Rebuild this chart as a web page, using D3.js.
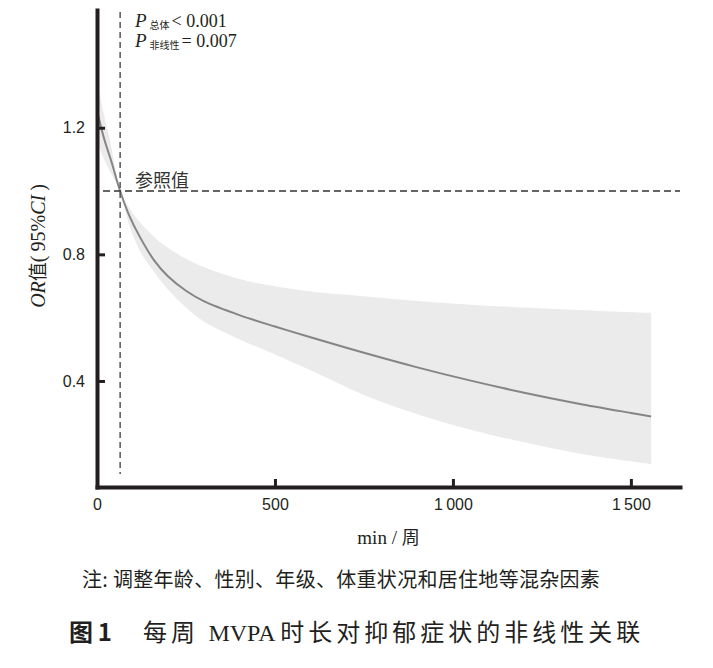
<!DOCTYPE html>
<html>
<head>
<meta charset="utf-8">
<script src="https://cdn.jsdelivr.net/npm/d3@7"></script>
<style>
html,body{margin:0;padding:0;background:#fff;}
svg{display:block;}
</style>
</head>
<body>
<svg id="chart" width="713" height="668"></svg>
<script>
// ---- data ----
const minutes = [3, 20, 40, 65, 90, 120, 160, 200, 250, 300, 400, 500, 600, 750, 900, 1050, 1200, 1350, 1500, 1557];
const orValue = [1.24, 1.165, 1.095, 1.00, 0.924, 0.856, 0.782, 0.730, 0.685, 0.652, 0.608, 0.572, 0.538, 0.489, 0.443, 0.401, 0.363, 0.329, 0.299, 0.288];
const ciUpper = [1.33, 1.24, 1.14, 1.00, 0.948, 0.902, 0.856, 0.820, 0.786, 0.760, 0.722, 0.699, 0.683, 0.668, 0.653, 0.641, 0.632, 0.624, 0.617, 0.615];
const ciLower = [1.15, 1.10, 1.055, 1.00, 0.895, 0.812, 0.745, 0.688, 0.632, 0.588, 0.532, 0.484, 0.434, 0.356, 0.295, 0.246, 0.206, 0.172, 0.146, 0.137];
const xTicks = [0, 500, 1000, 1500];
const yTicks = [0.4, 0.8, 1.2];
const refMinutes = 65;
const refOR = 1.0;
const xDomain = [0, 1638];
const yDomain = [0.065, 1.572];

const rows = minutes.map((m, i) => ({m, or: orValue[i], lo: ciLower[i], hi: ciUpper[i]}));

const svg = d3.select("#chart");
const L = 97, R = 680, T = 10, B = 487;
const x = d3.scaleLinear().domain(xDomain).range([L, R]);
const y = d3.scaleLinear().domain(yDomain).range([B, T]);

const SERIF = "'Liberation Serif','Times New Roman',serif";
const SANS = "'Liberation Sans',Arial,sans-serif";
const CJK = "'Noto Sans CJK SC','Noto Sans CJK JP',sans-serif";
const INK = "#231f20";
const curve = d3.curveCatmullRom.alpha(0.5);

// ribbon
svg.append("path")
  .datum(rows)
  .attr("fill", "#ebebeb")
  .attr("d", d3.area().x(d => x(d.m)).y0(d => y(d.lo)).y1(d => y(d.hi)).curve(curve));

// line
svg.append("path")
  .datum(rows)
  .attr("fill", "none")
  .attr("stroke", "#858585")
  .attr("stroke-width", 2)
  .attr("d", d3.line().x(d => x(d.m)).y(d => y(d.or)).curve(curve));

// reference dashed lines
svg.append("line")
  .attr("x1", x(refMinutes)).attr("x2", x(refMinutes))
  .attr("y1", 12).attr("y2", 474)
  .attr("stroke", "#555").attr("stroke-width", 1.5).attr("stroke-dasharray", "6,4");
svg.append("line")
  .attr("x1", 103).attr("x2", R)
  .attr("y1", y(refOR)).attr("y2", y(refOR))
  .attr("stroke", "#333").attr("stroke-width", 1.5).attr("stroke-dasharray", "7,4");

// axes
const fmtX = d => d >= 1000 ? d3.format(",")(d).replace(",", "\u2009") : String(d);
const gx = svg.append("g").attr("transform", `translate(0,${B})`)
  .call(d3.axisBottom(x).tickValues(xTicks).tickFormat(fmtX).tickSizeInner(-8).tickSizeOuter(0).tickPadding(12));
const gy = svg.append("g").attr("transform", `translate(${L},0)`)
  .call(d3.axisLeft(y).tickValues(yTicks).tickFormat(d3.format(".1f")).tickSizeInner(-8).tickSizeOuter(0).tickPadding(12));
[gx, gy].forEach(g => {
  g.select(".domain").attr("stroke", INK).attr("stroke-width", 4).attr("stroke-linecap", "square");
  g.selectAll(".tick line").attr("stroke", INK).attr("stroke-width", 3);
  g.selectAll(".tick text").attr("fill", INK).style("font-family", SANS).style("font-size", "16px");
});
gx.selectAll(".tick").filter(d => d === 0).select("line").remove();

// axis titles
svg.append("text")
  .attr("x", (L + R) / 2).attr("y", 544)
  .attr("text-anchor", "middle").attr("fill", INK)
  .style("font-size", "19px")
  .call(t => {
    t.append("tspan").style("font-family", SERIF).text("min / ");
    t.append("tspan").style("font-family", CJK).style("font-size", "18px").text("周");
  });

const yl = svg.append("text")
  .attr("transform", "translate(45,246) rotate(-90)")
  .attr("text-anchor", "middle").attr("fill", INK)
  .style("font-size", "20px");
yl.append("tspan").style("font-family", SERIF).style("font-style", "italic").text("OR");
yl.append("tspan").style("font-family", CJK).style("font-size", "19px").text("值");
yl.append("tspan").style("font-family", SERIF).text("(\u200995%");
yl.append("tspan").style("font-family", SERIF).style("font-style", "italic").text("CI");
yl.append("tspan").style("font-family", SERIF).text("\u2009)");

// P-value annotation
const pLines = [["总体", "< 0.001", 27], ["非线性", "= 0.007", 47]];
pLines.forEach(([sub, val, yy]) => {
  const t = svg.append("text").attr("x", 135).attr("y", yy).attr("fill", INK);
  t.append("tspan").style("font-family", SERIF).style("font-style", "italic").style("font-size", "19px").text("P");
  t.append("tspan").attr("dx", 3).attr("dy", 2).style("font-family", CJK).style("font-size", "10px").text(sub);
  t.append("tspan").attr("dx", 2).attr("dy", -2).style("font-family", SERIF).style("font-size", "18px").text(val);
});

svg.append("text").attr("x", 135).attr("y", 187).attr("fill", "#333")
  .style("font-family", CJK).style("font-size", "18px").text("参照值");

// note and caption
svg.append("text").attr("x", 82).attr("y", 587).attr("fill", INK)
  .style("font-family", CJK).style("font-size", "20px").style("letter-spacing", "0.3px")
  .text("注: 调整年龄、性别、年级、体重状况和居住地等混杂因素");

const cap = svg.append("text").attr("x", 69).attr("y", 641).attr("fill", INK).style("font-size", "24px");
cap.append("tspan").style("font-family", CJK).style("font-weight", "bold").text("图\u20091");
cap.append("tspan").attr("x", 143).style("font-family", CJK).style("letter-spacing", "4px").text("每周 ");
cap.append("tspan").style("font-family", SERIF).text("MVPA ");
cap.append("tspan").style("font-family", CJK).style("letter-spacing", "4px").text("时长对抑郁症状的非线性关联");
</script>
</body>
</html>
